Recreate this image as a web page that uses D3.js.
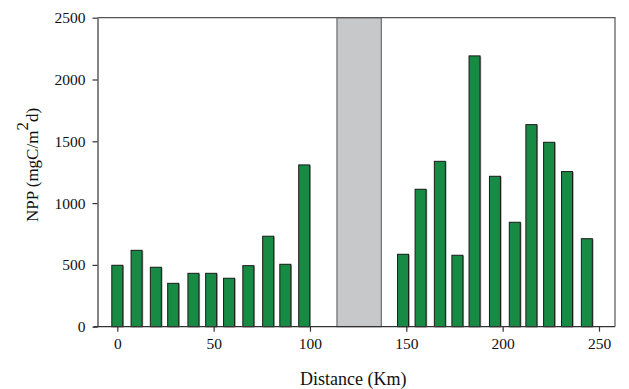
<!DOCTYPE html>
<html>
<head>
<meta charset="utf-8">
<script src="https://cdn.jsdelivr.net/npm/d3@7"></script>
<style>
  body { margin: 0; background: #fff; }
  text { font-family: "Liberation Serif", "Times New Roman", serif; fill: #111; }
</style>
</head>
<body>
<svg id="chart"></svg>
<script>
const distance = [0, 10, 20, 29, 39.5, 48.7, 58, 68, 78.3, 87.2, 97,
  148.3, 157.4, 167.4, 176.5, 185.4, 196, 206.3, 214.9, 224.1, 233.4, 243.7];
const npp = [497, 618, 481, 351, 432, 432, 392, 494, 732, 505, 1309,
  586, 1112, 1338, 578, 2191, 1217, 845, 1635, 1492, 1255, 712];
const gapRange = [114, 137];
const xTicks = [0, 50, 100, 150, 200, 250];
const yTicks = [0, 500, 1000, 1500, 2000, 2500];

const W = 629, H = 389;
const plotLeft = 97.5, plotRight = 615, plotTop = 17.7, plotBottom = 326.7;
const serif = "'Liberation Serif', 'Times New Roman', serif";

const svg = d3.select("#chart").attr("width", W).attr("height", H);

const x = d3.scaleLinear().domain([0, 250]).range([117.3, 599]);
const y = d3.scaleLinear().domain([0, 2500]).range([plotBottom, plotTop]);

const data = distance.map((d, i) => ({ dist: d, npp: npp[i] }));
const barW = 11;

// gray gap (no data)
svg.append("rect")
  .attr("x", x(gapRange[0]))
  .attr("y", plotTop)
  .attr("width", x(gapRange[1]) - x(gapRange[0]))
  .attr("height", plotBottom - plotTop)
  .attr("fill", "#c7c8ca")
  .attr("stroke", "#555")
  .attr("stroke-width", 1);

// bar shadows
svg.selectAll(".shadow")
  .data(data)
  .enter()
  .append("rect")
  .attr("class", "shadow")
  .attr("x", (d) => x(d.dist) - barW / 2 + 1.2)
  .attr("y", (d) => y(d.npp) + 0.5)
  .attr("width", barW)
  .attr("height", (d) => plotBottom - y(d.npp))
  .attr("fill", "#9a9a9a");

svg.selectAll(".bar")
  .data(data)
  .enter()
  .append("rect")
  .attr("class", "bar")
  .attr("x", (d) => x(d.dist) - barW / 2)
  .attr("y", (d) => y(d.npp))
  .attr("width", barW)
  .attr("height", (d) => plotBottom - y(d.npp))
  .attr("fill", "#178a44")
  .attr("stroke", "#1b1b1b")
  .attr("stroke-width", 1);

// frame (top and right)
svg.append("path")
  .attr("d", `M${plotLeft},${plotTop}H${plotRight}V${plotBottom}`)
  .attr("fill", "none")
  .attr("stroke", "#555")
  .attr("stroke-width", 1.2);

const xAxis = svg.append("g")
  .attr("transform", `translate(0,${plotBottom})`)
  .call(d3.axisBottom(x).tickValues(xTicks).tickFormat(d3.format("d"))
    .tickSize(5).tickPadding(6).tickSizeOuter(0));
xAxis.select(".domain").attr("d", `M${plotLeft - 4},0H${plotRight}`);

const yAxis = svg.append("g")
  .attr("transform", `translate(${plotLeft},0)`)
  .call(d3.axisLeft(y).tickValues(yTicks).tickFormat(d3.format("d"))
    .tickSize(5).tickPadding(7).tickSizeOuter(0));

[xAxis, yAxis].forEach((g) => g.attr("font-family", serif).attr("font-size", 15.5));
svg.selectAll(".tick text").attr("fill", "#111");
svg.selectAll(".domain, .tick line").attr("stroke", "#333").attr("stroke-width", 1.2);

svg.append("text")
  .attr("x", (plotLeft + plotRight) / 2 - 3)
  .attr("y", 385)
  .attr("text-anchor", "middle")
  .style("font-size", "18px")
  .text("Distance (Km)");

const yLabel = svg.append("text")
  .attr("transform", `translate(38,165) rotate(-90)`)
  .attr("text-anchor", "middle")
  .style("font-size", "17px");
yLabel.append("tspan").text("NPP (mgC/m");
yLabel.append("tspan").attr("dy", -10).text("2");
yLabel.append("tspan").attr("dy", 10).text("d)");
</script>
</body>
</html>
